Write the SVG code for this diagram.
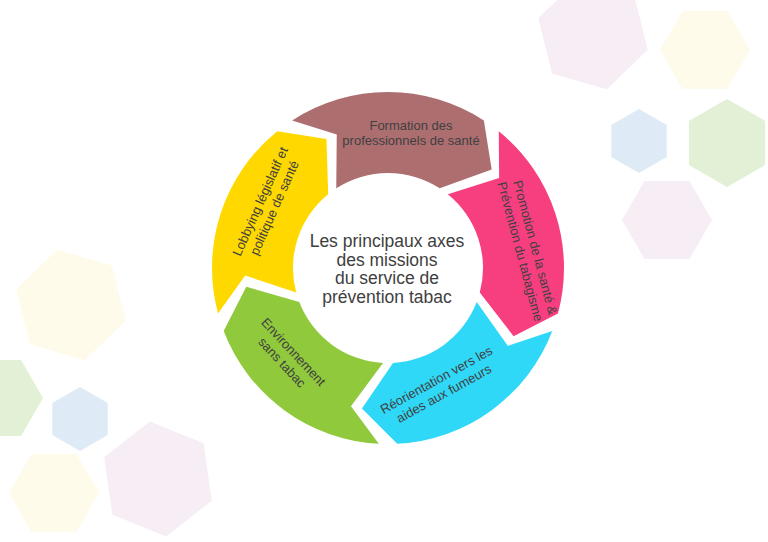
<svg xmlns="http://www.w3.org/2000/svg" width="768" height="542" viewBox="0 0 768 542">
<style>
.lbl{font-family:"Liberation Sans",Arial,sans-serif;font-size:13px;fill:#404040;text-anchor:middle}
.ctr{font-family:"Liberation Sans",Arial,sans-serif;font-size:17.5px;fill:#404040;text-anchor:middle}
.hp{fill:#F6EEF4}.hy{fill:#FFFBEB}.hb{fill:#DEEAF6}.hg{fill:#E2F0D5}
</style>
<defs>
<path id="seg" d="M292.15,120.4 A176,176 0 0 1 483.85,120.4 L491.7,169.6 L439.74,188.3 A95,95 0 0 0 336.26,188.3 L336.75,134.5 Z"/>
</defs>
<rect width="768" height="542" fill="#FFFFFF"/>
<g id="background">
<polygon class="hp" points="647.8,49.7 606.8,89.3 552,73.6 538.2,18.3 579.2,-21.3 634,-5.6"/>
<polygon class="hy" points="750,50 727.5,89 682.5,89 660,50 682.5,11 727.5,11"/>
<polygon class="hb" points="639,109 666.7,125 666.7,157 639,173 611.3,157 611.3,125"/>
<polygon class="hg" points="727,99 765.1,121 765.1,165 727,187 688.9,165 688.9,121"/>
<polygon class="hp" points="712,220 689.5,259 644.5,259 622,220 644.5,181 689.5,181"/>
<polygon class="hy" points="125.8,320.7 84.8,360.3 30,344.6 16.2,289.3 57.2,249.7 112,265.4"/>
<polygon class="hg" points="43,398 21,436.1 -23,436.1 -45,398 -23,359.9 21,359.9"/>
<polygon class="hb" points="80,387 107.7,403 107.7,435 80,451 52.3,435 52.3,403"/>
<polygon class="hy" points="99,493 76.5,532 31.5,532 9,493 31.5,454 76.5,454"/>
<polygon class="hp" points="211.8,500.7 166.1,536.4 112.3,514.7 104.2,457.3 149.9,421.6 203.7,443.3"/>
</g>
<g id="connectors"></g>
<g id="node-formation">
<use href="#seg" fill="#AD6E70"/>
<text class="lbl" x="411" y="130">Formation des</text>
<text class="lbl" x="411" y="145">professionnels de santé</text>
</g>
<g id="node-promotion">
<use href="#seg" fill="#F73F80" transform="rotate(72 388 268)"/>
<g transform="translate(528,249.5) rotate(75)">
<text class="lbl" x="0" y="-3">Promotion de la santé &amp;</text>
<text class="lbl" x="0" y="12.5">Prévention du tabagisme</text>
</g>
</g>
<g id="node-reorientation">
<use href="#seg" fill="#30D8F7" transform="rotate(144 388 268)"/>
<g transform="translate(440,386.5) rotate(-29)">
<text class="lbl" x="0" y="-3">Réorientation vers les</text>
<text class="lbl" x="0" y="12.5">aides aux fumeurs</text>
</g>
</g>
<g id="node-environnement">
<use href="#seg" fill="#90C93C" transform="rotate(216 388 268)"/>
<g transform="translate(288,357) rotate(47)">
<text class="lbl" x="0" y="-3">Environnement</text>
<text class="lbl" x="0" y="12.5">sans tabac</text>
</g>
</g>
<g id="node-lobbying">
<use href="#seg" fill="#FFD800" transform="rotate(288 388 268)"/>
<g transform="translate(267,204.5) rotate(-66)">
<text class="lbl" x="0" y="-3">Lobbying législatif et</text>
<text class="lbl" x="0" y="12.5">politique de santé</text>
</g>
</g>
<g id="node-center">
<text class="ctr" x="387" y="247">Les principaux axes</text>
<text class="ctr" x="387" y="265.5">des missions</text>
<text class="ctr" x="387" y="284">du service de</text>
<text class="ctr" x="387" y="302.5">prévention tabac</text>
</g>
</svg>
